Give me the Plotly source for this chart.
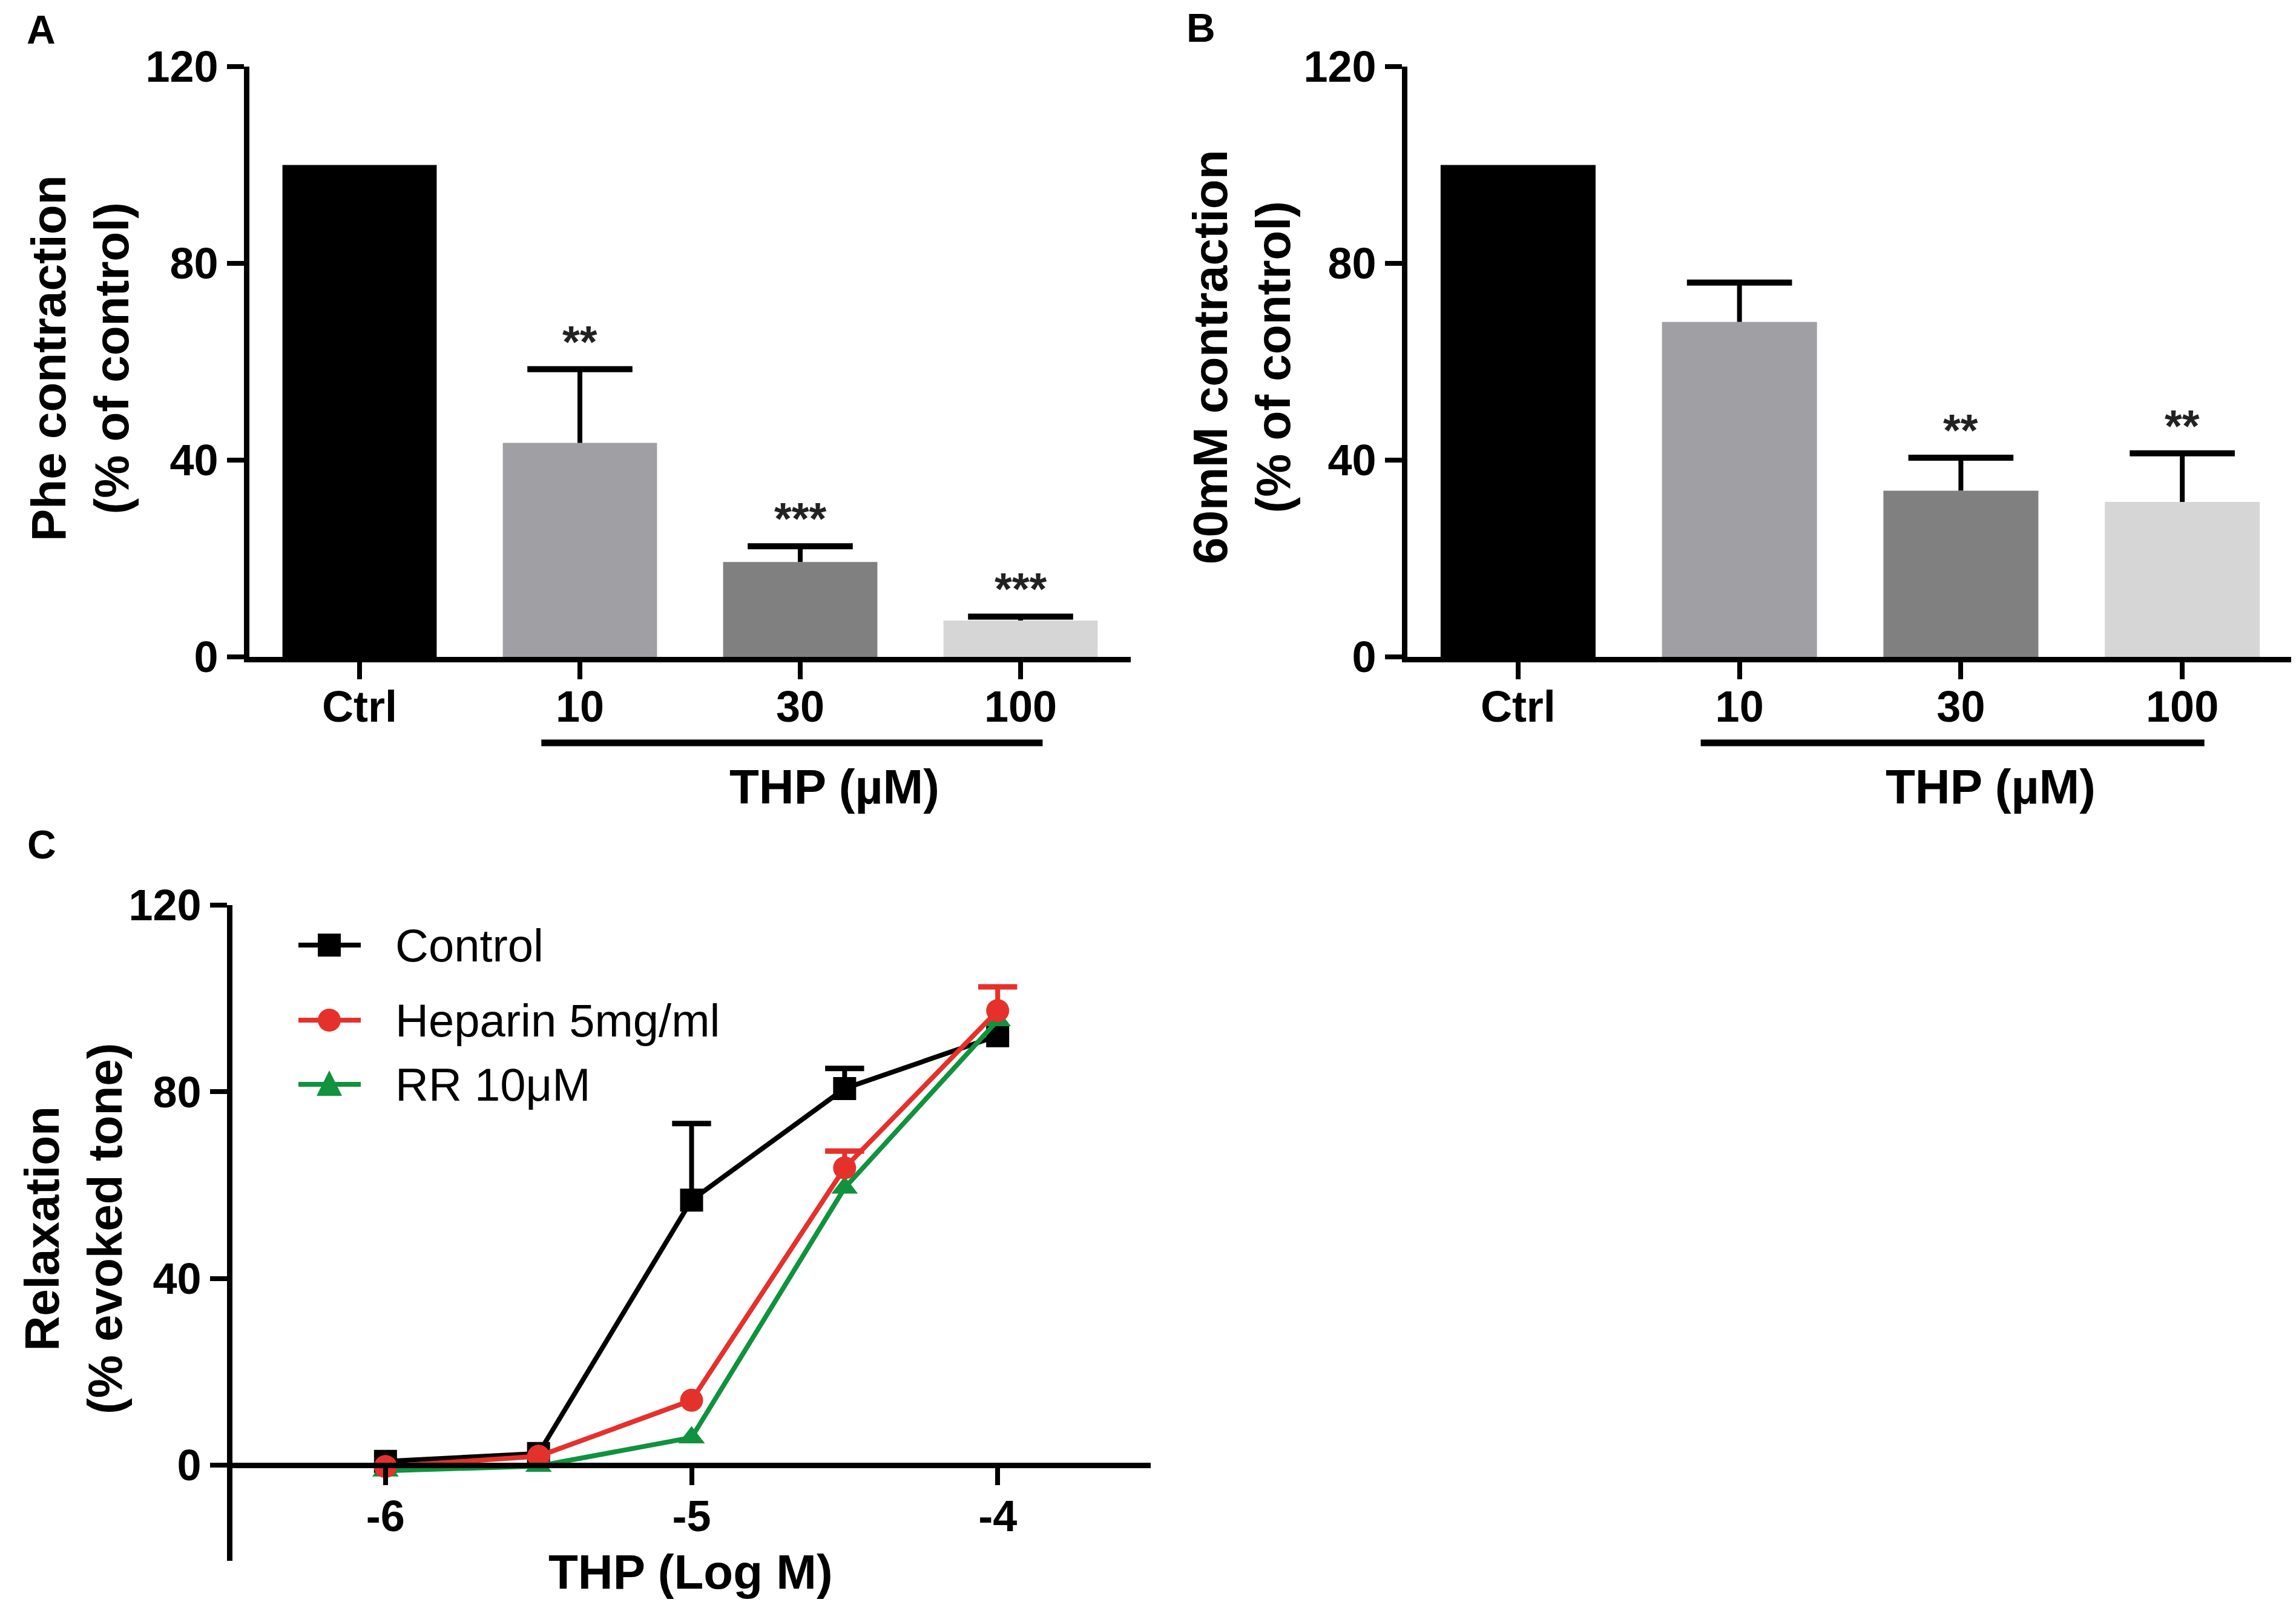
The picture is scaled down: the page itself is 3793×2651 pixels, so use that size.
import plotly.graph_objects as go

# ---- panel A: Phe contraction ----
categories = ["Ctrl", "10", "30", "100"]
phe_mean = [100, 43.5, 19.3, 7.4]
phe_err = [None, 15.0, 3.2, 0.8]
phe_stars = ["", "**", "***", "***"]

# ---- panel B: 60mM KCl contraction ----
kcl_mean = [100, 68.1, 33.8, 31.5]
kcl_err = [None, 8.0, 6.7, 9.9]
kcl_stars = ["", "", "**", "**"]

bar_colors = ["#000000", "#a0a0a4", "#808080", "#d6d6d6"]
bar_ticks = [0, 40, 80, 120]

# ---- panel C: relaxation curves ----
log_conc = [-6, -5.5, -5, -4.5, -4]
ctrl_mean = [0.8, 2.5, 56.8, 80.7, 92.0]
ctrl_err = [None, None, 16.4, 4.3, None]
hep_mean = [-0.3, 1.9, 13.9, 63.7, 97.4]
hep_err = [None, None, None, 3.6, 5.1]
rr_mean = [-1.2, -0.2, 5.9, 59.4, 95.3]
rr_err = [None, None, None, None, None]

series_names = ["Control", "Heparin 5mg/ml", "RR 10\u03bcM"]
series_colors = ["#000000", "#e5312c", "#10923e"]
series_symbols = ["square", "circle", "triangle-up"]
curve_xticks = [-6, -5, -4]
curve_xlabels = ["-6", "-5", "-4"]

W, H = 3793, 2651
FONT = "Liberation Sans, Arial, sans-serif"


def fx(p):
    return p / W


def fy(p):
    return 1 - p / H


def tops(mean, err):
    # upper end of each error bar (None where no bar is drawn)
    return [m + e if e is not None else None for m, e in zip(mean, err)]


tick_font = dict(family=FONT, size=72, color="black", weight="bold")
axis_style = dict(showline=True, linecolor="black", linewidth=9, ticks="outside",
                  ticklen=28, tickwidth=8, tickcolor="black", showgrid=False,
                  zeroline=False, tickfont=tick_font)

fig = go.Figure()

# bar panels: bars with a stem going up, plus a separate cap marker (no cap at the bar top)
for mean, err, xa, ya in [(phe_mean, phe_err, "x", "y"), (kcl_mean, kcl_err, "x2", "y2")]:
    fig.add_trace(go.Bar(
        x=categories, y=mean, width=0.7, marker=dict(color=bar_colors, line=dict(width=0)),
        error_y=dict(type="data", array=err, arrayminus=[0] * len(err), symmetric=False,
                     color="black", thickness=8, width=0),
        xaxis=xa, yaxis=ya, showlegend=False))
    fig.add_trace(go.Scatter(
        x=categories, y=tops(mean, err), mode="markers",
        marker=dict(symbol="line-ew", size=124, line=dict(color="black", width=10)),
        xaxis=xa, yaxis=ya, showlegend=False, cliponaxis=False))

# curves (red drawn last, on top)
curve_data = [(ctrl_mean, ctrl_err, 0), (rr_mean, rr_err, 2), (hep_mean, hep_err, 1)]
for mean, err, i in curve_data:
    col = series_colors[i]
    fig.add_trace(go.Scatter(
        x=log_conc, y=tops(mean, err), mode="markers",
        marker=dict(symbol="line-ew", size=46, line=dict(color=col, width=9)),
        xaxis="x3", yaxis="y3", cliponaxis=False, showlegend=False))
    fig.add_trace(go.Scatter(
        x=log_conc, y=mean, mode="lines+markers", name=series_names[i],
        line=dict(color=col, width=8),
        marker=dict(symbol=series_symbols[i], size=38, color=col),
        error_y=dict(type="data", array=err, arrayminus=[0] * len(err), symmetric=False,
                     color=col, thickness=8, width=0),
        xaxis="x3", yaxis="y3", cliponaxis=False, showlegend=False))

bar_ydom = [fy(1077), fy(102)]
c_yrange = [-20.5, 120]
c_ydom = [fy(2570), fy(1487)]
c_xpos = c_ydom[0] + (0 - c_yrange[0]) / (c_yrange[1] - c_yrange[0]) * (c_ydom[1] - c_ydom[0])

fig.update_layout(
    width=W, height=H, margin=dict(l=0, r=0, t=0, b=0, autoexpand=False),
    paper_bgcolor="white", plot_bgcolor="white",
    font=dict(family=FONT, color="black"),
    xaxis=dict(axis_style, type="category", range=[-0.5, 3.5], domain=[fx(404), fx(1860)],
               anchor="y", ticklabelstandoff=-16),
    yaxis=dict(axis_style, range=[0, 120], tickvals=bar_ticks, domain=bar_ydom, anchor="x"),
    xaxis2=dict(axis_style, type="category", range=[-0.5, 3.5], domain=[fx(2317), fx(3780)],
                anchor="y2", ticklabelstandoff=-16),
    yaxis2=dict(axis_style, range=[0, 120], tickvals=bar_ticks, domain=bar_ydom, anchor="x2"),
    xaxis3=dict(axis_style, range=[-6.5, -3.5], tickvals=curve_xticks, ticktext=curve_xlabels,
                domain=[fx(376), fx(1893)], anchor="free", position=c_xpos, ticklabelstandoff=-10),
    yaxis3=dict(axis_style, range=c_yrange, tickvals=bar_ticks, domain=c_ydom, anchor="x3"),
)

ann = []
shapes = []

# significance stars
for stars, mean, err, xr, yr in [(phe_stars, phe_mean, phe_err, "x", "y"),
                                 (kcl_stars, kcl_mean, kcl_err, "x2", "y2")]:
    for i, s in enumerate(stars):
        if s:
            ann.append(dict(x=i, y=mean[i] + (err[i] or 0), xref=xr, yref=yr, text=s,
                            showarrow=False, xanchor="center", yanchor="bottom", yshift=2,
                            font=dict(family=FONT, size=74, color="#222", weight="bold")))

# treatment bracket + label under bars
for xr, lab_x in [("x", 1370), ("x2", 3280)]:
    shapes.append(dict(type="line", xref=xr, yref="paper", x0=1 - 0.175, x1=3 + 0.1,
                       y0=fy(1219), y1=fy(1219), line=dict(color="black", width=11)))
    ann.append(dict(x=fx(lab_x), y=fy(1292), text="THP (\u00b5M)"))

ann += [
    dict(x=fx(125), y=fy(584), text="Phe contraction<br>(% of control)", textangle=-90),
    dict(x=fx(2043), y=fy(581), text="60mM contraction<br>(% of control)", textangle=-90),
    dict(x=fx(113), y=fy(2022), text="Relaxation<br>(% evoked tone)", textangle=-90),
    dict(x=fx(1133), y=fy(2588), text="THP (Log M)"),
]
title_font = dict(family=FONT, size=80, color="black", weight="bold")
for a in ann:
    if "font" not in a:
        a.update(xref="paper", yref="paper", showarrow=False, xanchor="center",
                 yanchor="middle", font=title_font)

for letter, px, py in [("A", 60, 41), ("B", 1976, 38), ("C", 61, 1387)]:
    ann.append(dict(x=fx(px), y=fy(py), xref="paper", yref="paper", text=letter, showarrow=False,
                    xanchor="center", yanchor="middle",
                    font=dict(family=FONT, size=66, weight="bold")))

# manual legend for panel C
legend_rows = [1553, 1677, 1783]
for i, row in enumerate(legend_rows):
    col = series_colors[i]
    shapes.append(dict(type="line", xref="paper", yref="paper", x0=fx(485), x1=fx(588),
                       y0=fy(row), y1=fy(row), line=dict(color=col, width=8)))
    cx, r = 536, 19
    if series_symbols[i] == "square":
        shapes.append(dict(type="rect", xref="paper", yref="paper", x0=fx(cx - r), x1=fx(cx + r),
                           y0=fy(row + r), y1=fy(row - r), fillcolor=col, line=dict(width=0)))
    elif series_symbols[i] == "circle":
        shapes.append(dict(type="circle", xref="paper", yref="paper", x0=fx(cx - r), x1=fx(cx + r),
                           y0=fy(row + r), y1=fy(row - r), fillcolor=col, line=dict(width=0)))
    else:
        path = "M {},{} L {},{} L {},{} Z".format(fx(cx - r - 2), fy(row + r), fx(cx + r + 2), fy(row + r),
                                                   fx(cx), fy(row - r - 4))
        shapes.append(dict(type="path", xref="paper", yref="paper", path=path, fillcolor=col,
                           line=dict(width=0)))
    ann.append(dict(x=fx(643), y=fy(row), xref="paper", yref="paper", text=series_names[i],
                    xanchor="left", yanchor="middle", showarrow=False,
                    font=dict(family=FONT, size=76, color="black")))

fig.update_layout(annotations=ann, shapes=shapes)

fig.write_html("out.html")
